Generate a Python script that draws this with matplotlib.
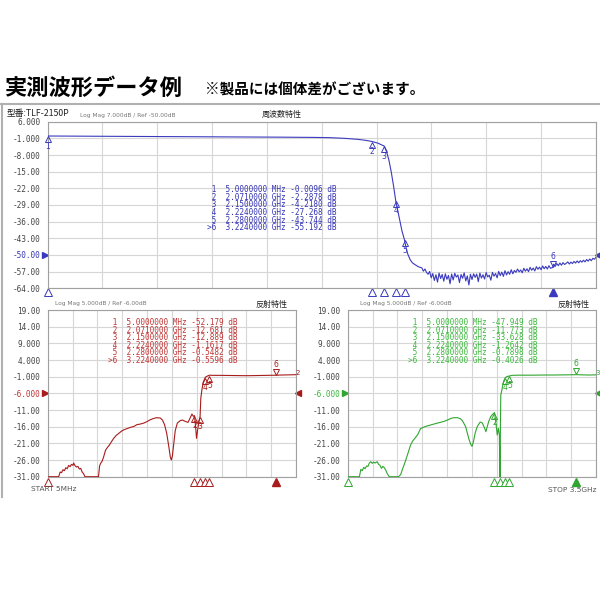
import matplotlib
matplotlib.use('Agg')
import matplotlib.pyplot as plt
from matplotlib import transforms
from matplotlib.lines import Line2D

# ---------------- data ----------------
# Transmission (S21), GHz / dB
S21_F = [0.005, 0.30, 0.60, 0.90, 1.20, 1.50, 1.70, 1.80, 1.90, 1.98, 2.03, 2.071, 2.11, 2.15,
         2.165, 2.18, 2.195, 2.21, 2.224, 2.245, 2.264, 2.28, 2.29, 2.30, 2.316, 2.33, 2.35, 2.37,
         2.39, 2.40, 2.41, 2.42,
         2.43, 2.44, 2.45, 2.46, 2.47, 2.48, 2.49, 2.50, 2.51, 2.52, 2.53, 2.54, 2.55, 2.56, 2.57,
         2.58, 2.59, 2.60, 2.61, 2.62, 2.63, 2.64, 2.65, 2.66, 2.67, 2.68, 2.69, 2.70, 2.71, 2.72,
         2.73, 2.74, 2.75, 2.76, 2.77, 2.78, 2.79, 2.80, 2.81, 2.82, 2.83, 2.84, 2.85, 2.86, 2.87,
         2.88, 2.89, 2.90, 2.91, 2.92, 2.93, 2.94, 2.95, 2.96, 2.97, 2.98, 2.99, 3.00, 3.01, 3.02,
         3.03, 3.04, 3.05, 3.06, 3.07, 3.08, 3.09, 3.10, 3.11, 3.12, 3.13, 3.14, 3.15, 3.16, 3.17,
         3.18, 3.19, 3.20, 3.21, 3.224, 3.23, 3.24, 3.25, 3.26, 3.27, 3.28, 3.29, 3.30, 3.31, 3.32,
         3.33, 3.34, 3.35, 3.36, 3.37, 3.38, 3.39, 3.40, 3.41, 3.42, 3.43, 3.44, 3.45, 3.46, 3.47,
         3.48, 3.49, 3.50]
S21_DB = [-0.01, -0.1, -0.2, -0.3, -0.4, -0.5, -0.6, -0.7, -1.0, -1.4, -1.8, -2.29, -3.0, -4.22,
          -6.5, -10.0, -15.0, -21.0, -27.27, -34.0, -40.0, -43.74, -47.0, -49.5, -52.0, -53.3, -54.2, -55.0,
          -55.4, -56.8, -55.9, -57.3,
          -58.1, -56.9, -59.6, -57.8, -60.7, -58.3, -61.4, -57.6, -59.9, -58.2, -61.0, -57.9, -60.2, -58.6, -62.1,
          -58.0, -60.5, -57.7, -59.3, -58.4, -61.6, -58.2, -59.8, -57.5, -60.9, -58.8, -62.6, -58.1, -60.3, -57.9,
          -59.4, -58.0, -61.2, -57.6, -59.7, -58.3, -60.1, -57.4, -59.2, -58.5, -60.6, -57.3, -58.9, -57.8, -59.6,
          -56.9, -58.7, -57.2, -59.0, -56.6, -58.4, -57.0, -58.1, -56.2, -57.9, -56.5, -57.3, -55.9, -57.1, -56.3,
          -57.5, -55.6, -56.8, -55.8, -57.0, -55.2, -56.4, -55.5, -56.7, -54.9, -56.0, -55.1, -56.2, -54.6, -55.8,
          -54.8, -55.9, -54.5, -55.6, -55.19, -53.9, -54.8, -53.6, -54.5, -53.4, -54.3, -53.2, -54.0, -53.5, -52.9,
          -53.8, -53.0, -53.6, -52.7, -53.4, -52.5, -53.3, -52.4, -53.0, -52.2, -52.9, -51.9, -52.6, -51.7, -52.4,
          -51.4, -51.8, -51.0]

# Reflection (S11) – red panel
S11_F = [0.005, 0.10, 0.16, 0.18, 0.20, 0.22, 0.24, 0.26, 0.28, 0.30, 0.32, 0.34, 0.36, 0.37, 0.39,
         0.41, 0.43, 0.45, 0.47, 0.49, 0.51, 0.53, 0.60, 0.72, 0.735, 0.75, 0.77, 0.79, 0.82, 0.85,
         0.87, 0.90, 0.93, 0.97, 1.00, 1.04, 1.08, 1.12, 1.17, 1.22, 1.26, 1.31, 1.36, 1.40, 1.45,
         1.50, 1.54, 1.59, 1.62, 1.65, 1.68, 1.71, 1.73, 1.745, 1.76, 1.78, 1.80, 1.83, 1.87, 1.90,
         1.94, 1.98, 2.01, 2.035, 2.055, 2.071, 2.085, 2.10, 2.115, 2.13, 2.15, 2.16, 2.175, 2.195,
         2.224, 2.25, 2.28, 2.32, 2.40, 2.50, 2.60, 2.70, 2.80, 2.90, 3.00, 3.10, 3.224, 3.30, 3.40, 3.50]
S11_DB = [-31, -31, -31, -29.6, -29.8, -28.9, -29.2, -28.3, -28.6, -27.6, -28.0, -27.3, -27.6, -26.9, -27.7,
          -28.1, -27.9, -28.7, -28.5, -29.6, -30.1, -31, -31, -31, -27.8, -27.0, -26.4, -25.2, -23.0, -22.1,
          -21.6, -20.6, -19.6, -18.6, -18.1, -17.4, -16.9, -16.6, -16.2, -15.9, -15.4, -15.2, -14.9, -14.5, -13.9,
          -13.5, -13.3, -13.4, -14.0, -15.4, -18.0, -22.0, -25.0, -26.0, -24.8, -21.0, -17.2, -14.9, -14.2, -14.0,
          -14.4, -14.7, -13.4, -12.2, -12.9, -12.68, -15.5, -19.5, -17.0, -15.0, -12.89, -7.5, -5.0, -2.6,
          -1.16, -0.85, -0.55, -0.6, -0.6, -0.62, -0.65, -0.68, -0.7, -0.68, -0.64, -0.6, -0.56, -0.5, -0.45, -0.4]

# Reflection (S22) – green panel
S22_F = [0.005, 0.10, 0.17, 0.19, 0.21, 0.23, 0.25, 0.27, 0.29, 0.31, 0.33, 0.35, 0.37, 0.39, 0.42,
         0.44, 0.46, 0.48, 0.50, 0.52, 0.54, 0.56, 0.59, 0.72, 0.75, 0.78, 0.80, 0.83, 0.86, 0.89,
         0.92, 0.95, 0.99, 1.03, 1.08, 1.12, 1.17, 1.22, 1.27, 1.31, 1.36, 1.41, 1.46, 1.50, 1.55,
         1.59, 1.62, 1.665, 1.69, 1.71, 1.735, 1.755, 1.775, 1.80, 1.83, 1.87, 1.90, 1.93, 1.95, 1.965,
         1.99, 2.02, 2.05, 2.071, 2.09, 2.11, 2.126, 2.14, 2.15, 2.155, 2.16, 2.175, 2.19, 2.205,
         2.224, 2.25, 2.28, 2.32, 2.40, 2.50, 2.60, 2.70, 2.80, 2.90, 3.00, 3.10, 3.224, 3.30, 3.40, 3.50]
S22_DB = [-31, -31, -31, -28.8, -29.2, -28.2, -28.6, -27.8, -27.9, -26.9, -26.5, -27.0, -26.6, -26.9, -26.5,
          -27.3, -27.6, -28.5, -27.9, -28.3, -29.0, -30.0, -31, -31, -30.4, -28.5, -27.4, -25.5, -23.5, -21.5,
          -20.3, -19.5, -18.4, -16.6, -16.1, -15.8, -15.5, -15.2, -14.9, -14.7, -14.4, -14.0, -13.5, -13.3, -13.3,
          -13.6, -14.2, -16.0, -18.0, -19.6, -21.2, -21.9, -20.5, -17.8, -15.9, -14.6, -14.9, -16.3, -17.5, -16.3,
          -14.4, -12.9, -12.2, -11.77, -14.6, -18.5, -16.5, -18.5, -33.63, -14.5, -6.5, -5.0, -3.3, -2.1,
          -1.26, -0.95, -0.79, -0.6, -0.55, -0.55, -0.55, -0.52, -0.5, -0.5, -0.47, -0.45, -0.40, -0.45, -0.5, -0.45]

# Marker table
MK_LABELS = ['1', '2', '3', '4', '5', '>6']
MK_FREQ_TXT = ['5.0000000', '2.0710000', '2.1500000', '2.2240000', '2.2800000', '3.2240000']
MK_UNITS = ['MHz', 'GHz', 'GHz', 'GHz', 'GHz', 'GHz']
MK_F = [0.005, 2.071, 2.15, 2.224, 2.28, 3.224]
S21_MK_TXT = ['-0.0096', '-2.2878', '-4.2180', '-27.268', '-43.744', '-55.192']
S11_MK_TXT = ['-52.179', '-12.681', '-12.889', '-1.1617', '-0.5482', '-0.5596']
S22_MK_TXT = ['-47.949', '-11.773', '-33.628', '-1.2642', '-0.7898', '-0.4026']

TOP_YTICKS = [6, -1, -8, -15, -22, -29, -36, -43, -50, -57, -64]
TOP_YLABELS = ['6.000', '-1.000', '-8.000', '-15.00', '-22.00', '-29.00', '-36.00',
               '-43.00', '-50.00', '-57.00', '-64.00']
BOT_YTICKS = [19, 14, 9, 4, -1, -6, -11, -16, -21, -26, -31]
BOT_YLABELS = ['19.00', '14.00', '9.000', '4.000', '-1.000', '-6.000', '-11.00',
               '-16.00', '-21.00', '-26.00', '-31.00']
F_START, F_STOP = 0.005, 3.5

# ---------------- style ----------------
W = H = 600
CJK = ['Noto Sans CJK JP', 'DejaVu Sans']
MONO = 'DejaVu Sans Mono'
BLUE_T, BLUE_L = '#3434b4', '#3a3abf'
RED_T, RED_L = '#c03434', '#a81c1c'
GRN_T, GRN_L = '#3cb83c', '#2fa62f'
TICKC = '#444444'
GRIDC = '#d6d6d6'

fig = plt.figure(figsize=(6, 6), dpi=100, facecolor='white')


def rect(l, t, r, b):
    return [l / W, 1 - b / H, (r - l) / W, (b - t) / H]


def ftext(x, y, s, **kw):
    kw.setdefault('va', 'center')
    return fig.text(x / W, 1 - y / H, s, **kw)


def panel(rc, fr, db, ylim, yt, yl, ref, tcol, lcol, mk_txt, stim_y, right_lab=None):
    ax = fig.add_axes(rect(*rc))
    ax.set_xlim(F_START, F_STOP)
    ax.set_ylim(*ylim)
    step = (F_STOP - F_START) / 10
    ax.set_xticks([F_START + k * step for k in range(11)])
    ax.set_xticklabels([])
    ax.set_yticks(yt)
    ax.set_yticklabels(yl, fontfamily=MONO, fontsize=5.6, color=TICKC)
    ax.tick_params(length=0, pad=5.2)
    for lab, v in zip(ax.get_yticklabels(), yt):
        if v == ref:
            lab.set_color(tcol)
    ax.grid(True, color=GRIDC, lw=0.8)
    ax.set_axisbelow(True)
    for s in ax.spines.values():
        s.set_color('#a0a0a0')
        s.set_linewidth(0.8)
    ax.plot(fr, db, color=lcol, lw=0.8, zorder=3)

    vals = [float(t) for t in mk_txt]
    for i, (mf, mv) in enumerate(zip(MK_F, vals), start=1):
        if not (ylim[0] <= mv <= ylim[1]):
            continue
        if i == 6:
            tr = transforms.offset_copy(ax.transData, fig=fig, x=0, y=3.4, units='dots')
            ax.plot([mf], [mv], marker='v', ms=5, mfc='none', mec=lcol, mew=0.7,
                    transform=tr, zorder=4, clip_on=False)
            trt = transforms.offset_copy(ax.transData, fig=fig, x=0, y=11, units='dots')
            ax.text(mf, mv, '6', transform=trt, fontsize=5.5, color=lcol,
                    ha='center', va='center', fontfamily='DejaVu Sans')
        else:
            tr = transforms.offset_copy(ax.transData, fig=fig, x=0, y=-3.4, units='dots')
            ax.plot([mf], [mv], marker='^', ms=5, mfc='none', mec=lcol, mew=0.7,
                    transform=tr, zorder=4, clip_on=False)
            trt = transforms.offset_copy(ax.transData, fig=fig, x=0, y=-10, units='dots')
            ax.text(mf, mv, str(i), transform=trt, fontsize=5.5, color=lcol,
                    ha='center', va='center', fontfamily='DejaVu Sans')

    # stimulus markers below the axis
    xt = ax.get_xaxis_transform()
    ax.plot(MK_F[:5], [stim_y] * 5, transform=xt, ls='none', marker='^', ms=5.5,
            mfc='white', mec=lcol, mew=0.7, clip_on=False)
    ax.plot(MK_F[5:], [stim_y], transform=xt, ls='none', marker='^', ms=5.5,
            mfc=lcol, mec=lcol, clip_on=False)
    # reference level arrows
    yt_tr = ax.get_yaxis_transform()
    trl = transforms.offset_copy(yt_tr, fig=fig, x=-3, y=0, units='dots')
    trr = transforms.offset_copy(yt_tr, fig=fig, x=2, y=0, units='dots')
    ax.plot([0], [ref], transform=trl, marker='>', ms=5, color=lcol, clip_on=False)
    ax.plot([1], [ref], transform=trr, marker='<', ms=5, color=lcol, clip_on=False)
    if right_lab:
        trx = transforms.offset_copy(yt_tr, fig=fig, x=3.5, y=4, units='dots')
        ax.text(1, -1, right_lab, transform=trx, fontsize=5, color=lcol,
                ha='right', va='center')
    return ax


def table(x0, y0, dy, txt, col):
    for k, (lab, ft, u, vt) in enumerate(zip(MK_LABELS, MK_FREQ_TXT, MK_UNITS, txt)):
        ftext(x0, y0 + k * dy, f"{lab:>2}  {ft} {u} {vt} dB", fontfamily=MONO,
              fontsize=5.6, color=col, ha='left')


# frame of the analyzer screenshot
fig.add_artist(Line2D([0, 1], [1 - 104 / H, 1 - 104 / H], color='#b0b0b0', lw=1.5))
fig.add_artist(Line2D([2 / W, 2 / W], [1 - 104 / H, 1 - 497 / H], color='#b0b0b0', lw=1.5))

# Title
ftext(4, 88, '実測波形データ例', fontsize=16, fontweight='bold', family=CJK, color='black', ha='left')
ftext(205, 90, '※製品には個体差がございます。', fontsize=10.5, fontweight='bold', family=CJK,
      color='black', ha='left')

# Top panel
panel((47.5, 121.7, 596, 288.3), S21_F, S21_DB, (-64, 6), TOP_YTICKS, TOP_YLABELS, -50,
      BLUE_T, BLUE_L, S21_MK_TXT, -0.022)
ftext(7, 114, '型番:TLF-2150P', fontsize=6.3, family=CJK, color='#222222', ha='left')
ftext(80, 115, 'Log Mag 7.000dB / Ref -50.00dB', fontsize=4.2, family='DejaVu Sans', color='#777777', ha='left')
ftext(262, 114.5, '周波数特性', fontsize=5.8, family=CJK, color='#222222', ha='left')
table(207, 189.5, 7.7, S21_MK_TXT, BLUE_T)

# Bottom-left (red)
panel((47.7, 310, 296, 476.7), S11_F, S11_DB, (-31, 19), BOT_YTICKS, BOT_YLABELS, -6,
      RED_T, RED_L, S11_MK_TXT, -0.03, right_lab='2')
ftext(55, 304, 'Log Mag 5.000dB / Ref -6.00dB', fontsize=4.2, family='DejaVu Sans', color='#777777', ha='left')
ftext(256, 304, '反射特性', fontsize=5.8, family=CJK, color='#222222', ha='left')
table(108, 322.5, 7.55, S11_MK_TXT, RED_T)
ftext(31, 489, 'START 5MHz', fontsize=5.3, family='DejaVu Sans', color='#555555', ha='left')

# Bottom-right (green)
panel((347.7, 310, 596, 476.7), S22_F, S22_DB, (-31, 19), BOT_YTICKS, BOT_YLABELS, -6,
      GRN_T, GRN_L, S22_MK_TXT, -0.03, right_lab='3')
ftext(360, 304, 'Log Mag 5.000dB / Ref -6.00dB', fontsize=4.2, family='DejaVu Sans', color='#777777', ha='left')
ftext(558, 304, '反射特性', fontsize=5.8, family=CJK, color='#222222', ha='left')
table(408, 322.5, 7.55, S22_MK_TXT, GRN_T)
ftext(597, 490, 'STOP 3.5GHz', fontsize=5.3, family='DejaVu Sans', color='#555555', ha='right')

fig.savefig('out.png', dpi=100, facecolor='white')
